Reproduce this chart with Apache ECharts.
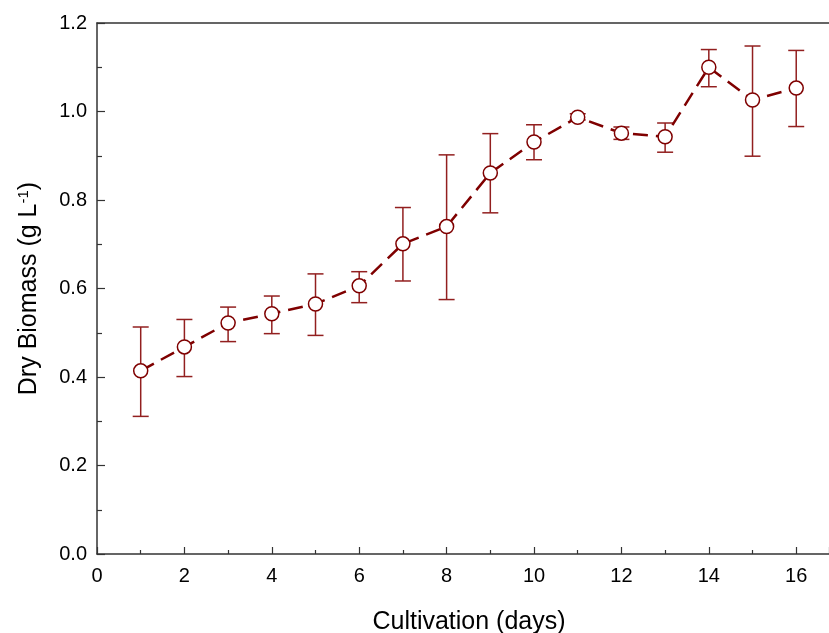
<!DOCTYPE html>
<html>
<head>
<meta charset="utf-8">
<script src="https://cdn.jsdelivr.net/npm/echarts@6/dist/echarts.min.js"></script>
<style>
  html, body { margin: 0; padding: 0; background: #fff; }
  #chart { width: 829px; height: 633px; }
</style>
</head>
<body>
<div id="chart"></div>
<script>
// days of cultivation
var days = [1, 2, 3, 4, 5, 6, 7, 8, 9, 10, 11, 12, 13, 14, 15, 16];
// dry biomass mean (g/L)
var biomass = [0.414, 0.468, 0.522, 0.543, 0.565, 0.606, 0.701, 0.740, 0.861, 0.931, 0.987, 0.951, 0.943, 1.100, 1.026, 1.053];
// error bar ends
var errHigh = [0.513, 0.530, 0.558, 0.583, 0.633, 0.638, 0.783, 0.902, 0.950, 0.970, 0.995, 0.965, 0.974, 1.140, 1.148, 1.138];
var errLow = [0.311, 0.401, 0.480, 0.498, 0.494, 0.568, 0.617, 0.575, 0.771, 0.891, 0.981, 0.937, 0.908, 1.056, 0.899, 0.966];

var lineColor = '#7f0000';
var errColor = '#921f1f';
var font = 'Liberation Sans';

var chart = echarts.init(document.getElementById('chart'), null, { renderer: 'canvas' });

var errData = days.map(function (d, i) { return [d, errLow[i], errHigh[i]]; });
var lineData = days.map(function (d, i) { return [d, biomass[i]]; });

var option = {
  backgroundColor: '#fff',
  animation: false,
  grid: { left: 97, top: 23, right: 0, bottom: 79, containLabel: false, outerBoundsMode: 'none' },
  xAxis: [{
    type: 'value',
    min: 0,
    max: 16.75,
    interval: 2,
    name: 'Cultivation (days)',
    nameLocation: 'middle',
    nameGap: 56,
    nameTextStyle: { fontFamily: font, fontSize: 25, color: '#000', padding: [0, 0, 0, 12] },
    axisLine: { show: true, onZero: false, lineStyle: { color: '#333', width: 1.5 } },
    axisTick: { show: true, inside: true, length: 7, lineStyle: { color: '#333', width: 1.2 } },
    minorTick: { show: true, splitNumber: 2, length: 4, lineStyle: { color: '#333', width: 1.2 } },
    axisLabel: {
      fontFamily: font, fontSize: 20, color: '#000', margin: 12,
      formatter: function (v) { return v > 16 ? '' : String(v); }
    },
    splitLine: { show: false }
  }, {
    type: 'value',
    position: 'top',
    min: 0,
    max: 16.75,
    axisLine: { show: true, onZero: false, lineStyle: { color: '#333', width: 1.5 } },
    axisTick: { show: false },
    axisLabel: { show: false },
    splitLine: { show: false }
  }],
  yAxis: {
    type: 'value',
    min: 0,
    max: 1.2,
    interval: 0.2,
    name: 'Dry Biomass (g L{sup|-1})',
    nameLocation: 'middle',
    nameGap: 54,
    nameRotate: 90,
    nameTextStyle: {
      fontFamily: font, fontSize: 25, color: '#000',
      rich: { sup: { fontSize: 15, verticalAlign: 'top', padding: [0, 0, 12, 0], fontFamily: font, color: '#000' } }
    },
    axisLine: { show: true, onZero: false, lineStyle: { color: '#333', width: 1.5 } },
    axisTick: { show: true, inside: true, length: 8, lineStyle: { color: '#333', width: 1.2 } },
    minorTick: { show: true, splitNumber: 2, length: 5, lineStyle: { color: '#333', width: 1.2 } },
    axisLabel: {
      fontFamily: font, fontSize: 20, color: '#000', margin: 10,
      formatter: function (v) { return v.toFixed(1); }
    },
    splitLine: { show: false }
  },
  series: [{
    type: 'custom',
    name: 'error',
    data: errData,
    z: 1,
    renderItem: function (params, api) {
      var x = api.value(0);
      var lo = api.coord([x, api.value(1)]);
      var hi = api.coord([x, api.value(2)]);
      var cap = 8;
      var style = { stroke: errColor, lineWidth: 1.5, fill: null };
      return {
        type: 'group',
        children: [
          { type: 'line', shape: { x1: lo[0], y1: lo[1], x2: hi[0], y2: hi[1] }, style: style },
          { type: 'line', shape: { x1: hi[0] - cap, y1: hi[1], x2: hi[0] + cap, y2: hi[1] }, style: style },
          { type: 'line', shape: { x1: lo[0] - cap, y1: lo[1], x2: lo[0] + cap, y2: lo[1] }, style: style }
        ]
      };
    }
  }, {
    type: 'line',
    name: 'biomass',
    data: lineData,
    z: 3,
    symbol: 'circle',
    symbolSize: 14,
    lineStyle: { color: lineColor, width: 2.5, type: [15, 8] },
    itemStyle: { color: '#fff', borderColor: lineColor, borderWidth: 1.5 }
  }]
};

chart.setOption(option);
</script>
</body>
</html>
